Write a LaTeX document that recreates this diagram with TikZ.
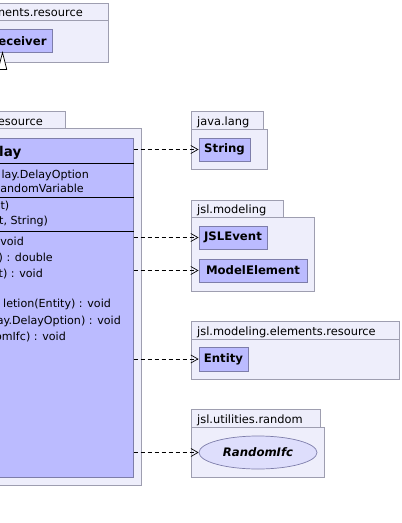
\documentclass[tikz,border=0pt]{standalone}
\usepackage{fontspec}
\setmainfont{DejaVu Sans}
\usetikzlibrary{arrows.meta,shapes.geometric}

\definecolor{pkgfill}{RGB}{238,238,251}
\definecolor{pkgdraw}{RGB}{158,158,176}
\definecolor{clsfill}{RGB}{187,187,255}
\definecolor{clsdraw}{RGB}{125,125,170}
\definecolor{ifcfill}{RGB}{222,222,252}

\tikzset{
  package/.style={draw=pkgdraw, fill=pkgfill, line width=0.9pt},
  pkglabel/.style={anchor=base west, inner sep=0pt, font=\fontsize{11.4}{13}\selectfont},
  umlclass/.style={draw=clsdraw, fill=clsfill, line width=0.9pt, inner sep=0pt,
    font=\fontsize{11.7}{13}\selectfont\bfseries},
  umlifc/.style={ellipse, draw=clsdraw, fill=ifcfill, line width=0.7pt, inner sep=0pt,
    font=\fontsize{11.7}{13}\selectfont\bfseries\itshape},
  member/.style={anchor=base east, inner sep=0pt, font=\fontsize{11.1}{13}\selectfont},
  depends/.style={dash pattern=on 4pt off 3pt, line width=0.7pt,
    -{Straight Barb[length=7pt,width=8pt]}},
}

\begin{document}
\begin{tikzpicture}[x=1pt, y=-1pt]
      \useasboundingbox (0,0) rectangle (402,523);
      \clip (0,0) rectangle (402,523);

      % elements.resource (top):
      %   holds the Receiver interface
      \draw[package] (-10,3) rectangle (108,62);
      \draw[pkgdraw, line width=0.9pt] (-10,20) -- (108,20);
      \node[pkglabel, anchor=base east] (toplabel) at (83,16.5) {ments.resource};
      \node[umlclass, anchor=north east, minimum height=23pt, inner xsep=6pt]
        (receiver) at (53,29) {eceiver};
      % generalization towards Receiver
      \coordinate (gentip) at (2.5,52.5);
      \draw[fill=white, line width=0.7pt] (gentip) -- (6.8,69.5) -- (-1.8,69.5) -- cycle;

      % resource (middle):
      %   holds the Delay class
      \draw[package] (-10,111) rectangle (65,128);
      \draw[package] (-10,128) rectangle (141.5,485);
      \node[pkglabel, anchor=base east] (midlabel) at (43,125) {esource};
      \node[umlclass, anchor=north east, minimum width=190pt, minimum height=339pt]
        (delay) at (133.5,138) {};
      \draw[line width=0.8pt] (delay.west |- 0,163) -- (delay.east |- 0,163);
      \draw[line width=0.8pt] (delay.west |- 0,197.5) -- (delay.east |- 0,197.5);
      \draw[line width=0.8pt] (delay.west |- 0,231.5) -- (delay.east |- 0,231.5);
      \node[member, anchor=base west, font=\fontsize{13.5}{15}\selectfont\bfseries]
        (dname) at (-1,156) {lay};
      % attributes
      \node[member] (attr1) at (89,178.5) {lay.DelayOption};
      \node[member] (attr2) at (84,192.5) {andomVariable};
      % constructors
      \node[member] (ctor1) at (9.5,209) {t)};
      \node[member, anchor=base west] (ctor2) at (-1,224) {t, String)};
      % operations
      \node[member] (op1) at (24,245) {void};
      \node[member] (op2) at (53,261) {) : double};
      \node[member] (op3) at (43,277) {t) : void};
      \node[member, anchor=base west] (op4) at (3,307.5) {letion(Entity) : void};
      \node[member] (op5) at (121,324) {ay.DelayOption) : void};
      \node[member] (op6) at (66,340) {omIfc) : void};

      % java.lang:
      %   String
      \draw[package] (191,111) rectangle (263,129);
      \draw[package] (191,129) rectangle (267,169);
      \node[pkglabel] (langlabel) at (197,125) {java.lang};
      \node[umlclass, minimum width=51pt, minimum height=23pt] (string) at (224.5,149.5) {String};

      % jsl.modeling:
      %   JSLEvent and ModelElement
      \draw[package] (191,200) rectangle (283,217);
      \draw[package] (191,217) rectangle (314,291);
      \node[pkglabel] (modlabel) at (197,213.5) {jsl.modeling};
      \node[umlclass, minimum width=68pt, minimum height=23pt] (jslevent) at (233,237.5) {JSLEvent};
      \node[umlclass, minimum width=108pt, minimum height=23pt] (modelelement) at (253,270.5) {ModelElement};

      % jsl.modeling.elements.resource:
      %   Entity
      \draw[package] (191,321) rectangle (399,339);
      \draw[package] (191,339) rectangle (399,379);
      \node[pkglabel] (reslabel) at (197,335) {jsl.modeling.elements.resource};
      \node[umlclass, minimum width=49pt, minimum height=24pt] (entity) at (223.5,359) {Entity};

      % jsl.utilities.random:
      %   the RandomIfc interface
      \draw[package] (191,409) rectangle (320,427);
      \draw[package] (191,427) rectangle (324,477);
      \node[pkglabel] (randlabel) at (197,423) {jsl.utilities.random};
      \node[umlifc, minimum width=118pt, minimum height=33pt] (randomifc) at (258,452.5) {RandomIfc};

      \draw[depends] (delay.east |- string) -- (string.west);
      \draw[depends] (delay.east |- jslevent) -- (jslevent.west);
      \draw[depends] (delay.east |- modelelement) -- (modelelement.west);
      \draw[depends] (delay.east |- entity) -- (entity.west);
      \draw[depends] (delay.east |- randomifc) -- (randomifc.west);
\end{tikzpicture}
\end{document}
